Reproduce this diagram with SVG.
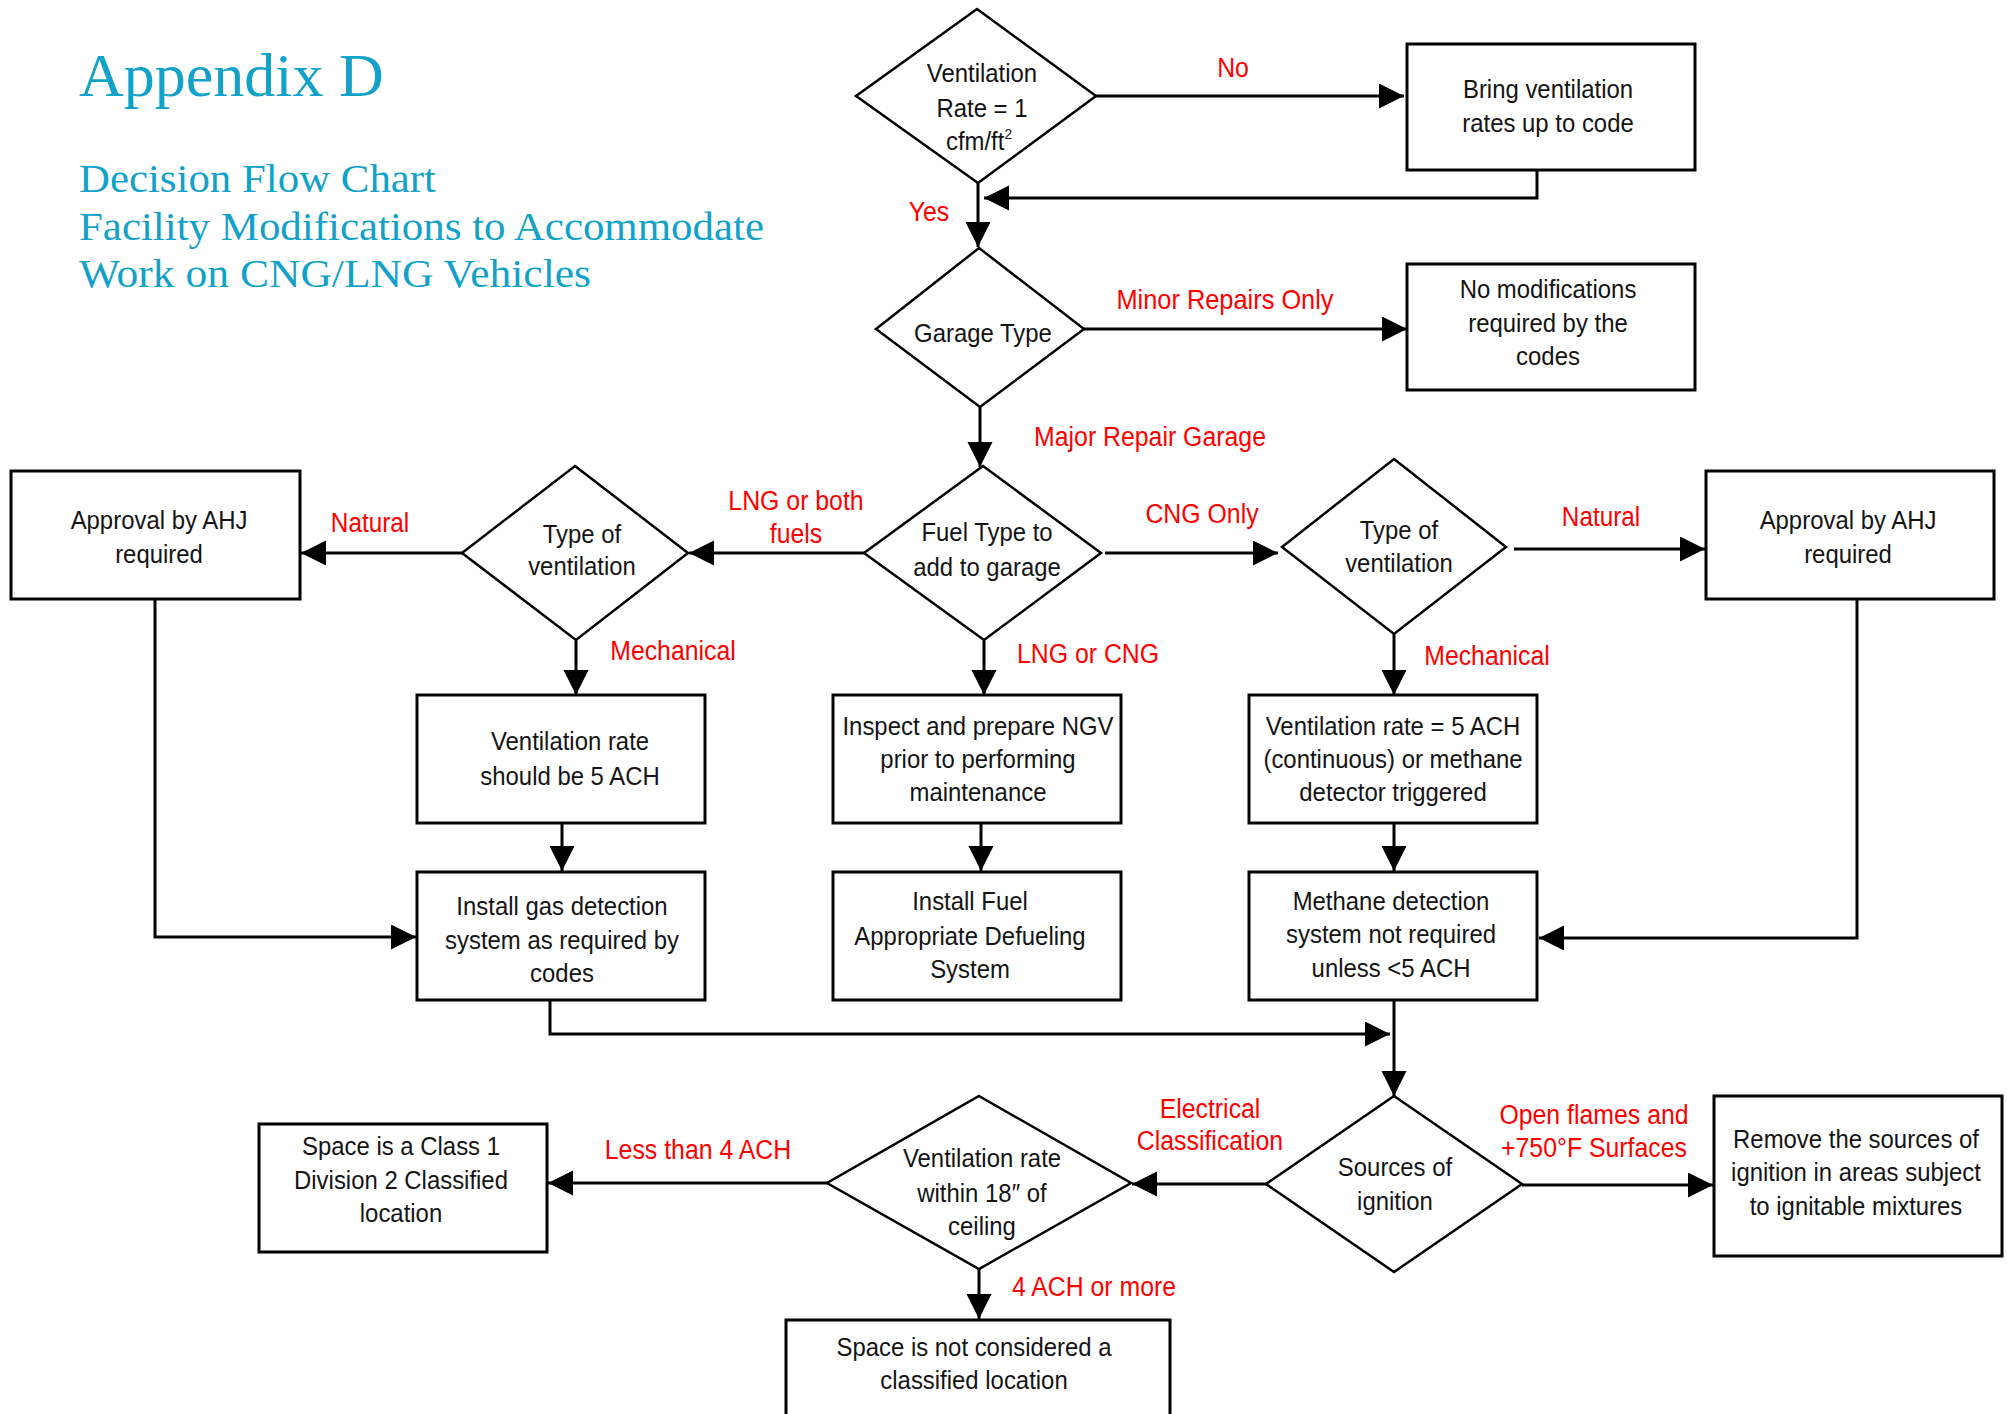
<svg xmlns="http://www.w3.org/2000/svg" width="2007" height="1414" viewBox="0 0 2007 1414">
<defs>
<style>
.bx{fill:#fff;stroke:#000;stroke-width:3}
.dm{fill:#fff;stroke:#000;stroke-width:2.5}
.t{font-family:"Liberation Sans",Arial,sans-serif;font-size:26px;fill:#141414;text-anchor:middle}
.l{font-family:"Liberation Sans",Arial,sans-serif;font-size:27px;fill:#ff0000;text-anchor:middle}
.c{fill:none;stroke:#000;stroke-width:3}
.h{font-family:"Liberation Serif","Times New Roman",serif;fill:#12a2c9}
</style>
<marker id="ah" markerUnits="userSpaceOnUse" markerWidth="26" markerHeight="26" refX="25" refY="12.5" orient="auto"><path d="M0,0 L25,12.5 L0,25 z" fill="#000"/></marker>
</defs>
<rect width="2007" height="1414" fill="#fff"/>
<g id="title">
<text class="h" x="79" y="96" font-size="62">Appendix D</text>
<text class="h" x="79" y="192" font-size="40" textLength="357" lengthAdjust="spacingAndGlyphs">Decision Flow Chart</text>
<text class="h" x="79" y="240" font-size="40" textLength="685" lengthAdjust="spacingAndGlyphs">Facility Modifications to Accommodate</text>
<text class="h" x="79" y="287" font-size="40" textLength="512" lengthAdjust="spacingAndGlyphs">Work on CNG/LNG Vehicles</text>
</g>
<g id="connectors">
<path class="c" d="M1096,96 H1404" marker-end="url(#ah)"/>
<path class="c" d="M1537,170 V198 H984" marker-end="url(#ah)"/>
<path class="c" d="M978,183 V247" marker-end="url(#ah)"/>
<path class="c" d="M1083,329 H1407" marker-end="url(#ah)"/>
<path class="c" d="M980,407 V467" marker-end="url(#ah)"/>
<path class="c" d="M864,553 H689" marker-end="url(#ah)"/>
<path class="c" d="M463,553 H301" marker-end="url(#ah)"/>
<path class="c" d="M576,640 V695" marker-end="url(#ah)"/>
<path class="c" d="M155,599 V937 H416" marker-end="url(#ah)"/>
<path class="c" d="M562,823 V871" marker-end="url(#ah)"/>
<path class="c" d="M550,1000 V1034 H1390" marker-end="url(#ah)"/>
<path class="c" d="M984,640 V695" marker-end="url(#ah)"/>
<path class="c" d="M981,823 V871" marker-end="url(#ah)"/>
<path class="c" d="M1105,553 H1278" marker-end="url(#ah)"/>
<path class="c" d="M1514,549 H1705" marker-end="url(#ah)"/>
<path class="c" d="M1394,634 V695" marker-end="url(#ah)"/>
<path class="c" d="M1394,823 V871" marker-end="url(#ah)"/>
<path class="c" d="M1857,599 V938 H1539" marker-end="url(#ah)"/>
<path class="c" d="M1394,1000 V1096" marker-end="url(#ah)"/>
<path class="c" d="M1266,1184 H1132" marker-end="url(#ah)"/>
<path class="c" d="M1522,1185 H1713" marker-end="url(#ah)"/>
<path class="c" d="M827,1183 H548" marker-end="url(#ah)"/>
<path class="c" d="M979,1269 V1319" marker-end="url(#ah)"/>
</g>
<g id="labels">
<text class="l" transform="translate(1233,77) scale(0.92,1)">No</text>
<text class="l" transform="translate(929,221) scale(0.92,1)">Yes</text>
<text class="l" transform="translate(1225,309) scale(0.94,1)">Minor Repairs Only</text>
<text class="l" transform="translate(1150,446) scale(0.92,1)">Major Repair Garage</text>
<text class="l" transform="translate(796,510) scale(0.92,1)">LNG or both</text>
<text class="l" transform="translate(796,543) scale(0.92,1)">fuels</text>
<text class="l" transform="translate(370,532) scale(0.9,1)">Natural</text>
<text class="l" transform="translate(673,660) scale(0.92,1)">Mechanical</text>
<text class="l" transform="translate(1088,663) scale(0.92,1)">LNG or CNG</text>
<text class="l" transform="translate(1202,523) scale(0.92,1)">CNG Only</text>
<text class="l" transform="translate(1601,526) scale(0.9,1)">Natural</text>
<text class="l" transform="translate(1487,665) scale(0.92,1)">Mechanical</text>
<text class="l" transform="translate(1210,1118) scale(0.92,1)">Electrical</text>
<text class="l" transform="translate(1210,1150) scale(0.92,1)">Classification</text>
<text class="l" transform="translate(1594,1124) scale(0.92,1)">Open flames and</text>
<text class="l" transform="translate(1594,1157) scale(0.92,1)">+750°F Surfaces</text>
<text class="l" transform="translate(698,1159) scale(0.92,1)">Less than 4 ACH</text>
<text class="l" transform="translate(1094,1296) scale(0.92,1)">4 ACH or more</text>
</g>
<g id="d-ventrate">
<polygon class="dm" points="977,9 1096,96 978,183 856,96"/>
<text class="t" transform="translate(982,82) scale(0.92,1)">Ventilation</text>
<text class="t" transform="translate(982,117) scale(0.92,1)">Rate = 1</text>
<text class="t" transform="translate(979,150) scale(0.92,1)">cfm/ft<tspan font-size="15" dy="-11">2</tspan></text>
</g>
<g id="b-bring">
<rect class="bx" x="1407" y="44" width="288" height="126"/>
<text class="t" transform="translate(1548,98) scale(0.92,1)">Bring ventilation</text>
<text class="t" transform="translate(1548,132) scale(0.92,1)">rates up to code</text>
</g>
<g id="d-garage">
<polygon class="dm" points="979,248 1084,329 980,407 876,329"/>
<text class="t" transform="translate(983,342) scale(0.92,1)">Garage Type</text>
</g>
<g id="b-nomod">
<rect class="bx" x="1407" y="264" width="288" height="126"/>
<text class="t" transform="translate(1548,298) scale(0.92,1)">No modifications</text>
<text class="t" transform="translate(1548,332) scale(0.92,1)">required by the</text>
<text class="t" transform="translate(1548,365) scale(0.92,1)">codes</text>
</g>
<g id="d-fuel">
<polygon class="dm" points="983,466 1101,553 984,640 864,553"/>
<text class="t" transform="translate(987,541) scale(0.92,1)">Fuel Type to</text>
<text class="t" transform="translate(987,576) scale(0.92,1)">add to garage</text>
</g>
<g id="d-typeL">
<polygon class="dm" points="575,466 688,553 576,640 462,553"/>
<text class="t" transform="translate(582,543) scale(0.92,1)">Type of</text>
<text class="t" transform="translate(582,575) scale(0.92,1)">ventilation</text>
</g>
<g id="b-ahjL">
<rect class="bx" x="11" y="471" width="289" height="128"/>
<text class="t" transform="translate(159,529) scale(0.92,1)">Approval by AHJ</text>
<text class="t" transform="translate(159,563) scale(0.92,1)">required</text>
</g>
<g id="b-vent5">
<rect class="bx" x="417" y="695" width="288" height="128"/>
<text class="t" transform="translate(570,750) scale(0.92,1)">Ventilation rate</text>
<text class="t" transform="translate(570,785) scale(0.92,1)">should be 5 ACH</text>
</g>
<g id="b-gasdet">
<rect class="bx" x="417" y="872" width="288" height="128"/>
<text class="t" transform="translate(562,915) scale(0.92,1)">Install gas detection</text>
<text class="t" transform="translate(562,949) scale(0.92,1)">system as required by</text>
<text class="t" transform="translate(562,982) scale(0.92,1)">codes</text>
</g>
<g id="b-inspect">
<rect class="bx" x="833" y="695" width="288" height="128"/>
<text class="t" transform="translate(978,735) scale(0.92,1)">Inspect and prepare NGV</text>
<text class="t" transform="translate(978,768) scale(0.92,1)">prior to performing</text>
<text class="t" transform="translate(978,801) scale(0.92,1)">maintenance</text>
</g>
<g id="b-defuel">
<rect class="bx" x="833" y="872" width="288" height="128"/>
<text class="t" transform="translate(970,910) scale(0.92,1)">Install Fuel</text>
<text class="t" transform="translate(970,945) scale(0.92,1)">Appropriate Defueling</text>
<text class="t" transform="translate(970,978) scale(0.92,1)">System</text>
</g>
<g id="d-typeR">
<polygon class="dm" points="1394,459 1506,547 1394,634 1282,547"/>
<text class="t" transform="translate(1399,539) scale(0.92,1)">Type of</text>
<text class="t" transform="translate(1399,572) scale(0.92,1)">ventilation</text>
</g>
<g id="b-ahjR">
<rect class="bx" x="1706" y="471" width="288" height="128"/>
<text class="t" transform="translate(1848,529) scale(0.92,1)">Approval by AHJ</text>
<text class="t" transform="translate(1848,563) scale(0.92,1)">required</text>
</g>
<g id="b-vent5c">
<rect class="bx" x="1249" y="695" width="288" height="128"/>
<text class="t" transform="translate(1393,735) scale(0.92,1)">Ventilation rate = 5 ACH</text>
<text class="t" transform="translate(1393,768) scale(0.92,1)">(continuous) or methane</text>
<text class="t" transform="translate(1393,801) scale(0.92,1)">detector triggered</text>
</g>
<g id="b-methane">
<rect class="bx" x="1249" y="872" width="288" height="128"/>
<text class="t" transform="translate(1391,910) scale(0.92,1)">Methane detection</text>
<text class="t" transform="translate(1391,943) scale(0.92,1)">system not required</text>
<text class="t" transform="translate(1391,977) scale(0.92,1)">unless &lt;5 ACH</text>
</g>
<g id="d-sources">
<polygon class="dm" points="1394,1096 1522,1184 1394,1272 1266,1184"/>
<text class="t" transform="translate(1395,1176) scale(0.92,1)">Sources of</text>
<text class="t" transform="translate(1395,1210) scale(0.92,1)">ignition</text>
</g>
<g id="b-remove">
<rect class="bx" x="1714" y="1096" width="288" height="160"/>
<text class="t" transform="translate(1856,1148) scale(0.92,1)">Remove the sources of</text>
<text class="t" transform="translate(1856,1181) scale(0.92,1)">ignition in areas subject</text>
<text class="t" transform="translate(1856,1215) scale(0.92,1)">to ignitable mixtures</text>
</g>
<g id="d-ceiling">
<polygon class="dm" points="979,1096 1131,1183 979,1269 827,1183"/>
<text class="t" transform="translate(982,1167) scale(0.92,1)">Ventilation rate</text>
<text class="t" transform="translate(982,1202) scale(0.92,1)">within 18″ of</text>
<text class="t" transform="translate(982,1235) scale(0.92,1)">ceiling</text>
</g>
<g id="b-class1">
<rect class="bx" x="259" y="1124" width="288" height="128"/>
<text class="t" transform="translate(401,1155) scale(0.92,1)">Space is a Class 1</text>
<text class="t" transform="translate(401,1189) scale(0.92,1)">Division 2 Classified</text>
<text class="t" transform="translate(401,1222) scale(0.92,1)">location</text>
</g>
<g id="b-notclass">
<rect class="bx" x="786" y="1320" width="384" height="110"/>
<text class="t" transform="translate(974,1356) scale(0.92,1)">Space is not considered a</text>
<text class="t" transform="translate(974,1389) scale(0.92,1)">classified location</text>
</g>
</svg>
